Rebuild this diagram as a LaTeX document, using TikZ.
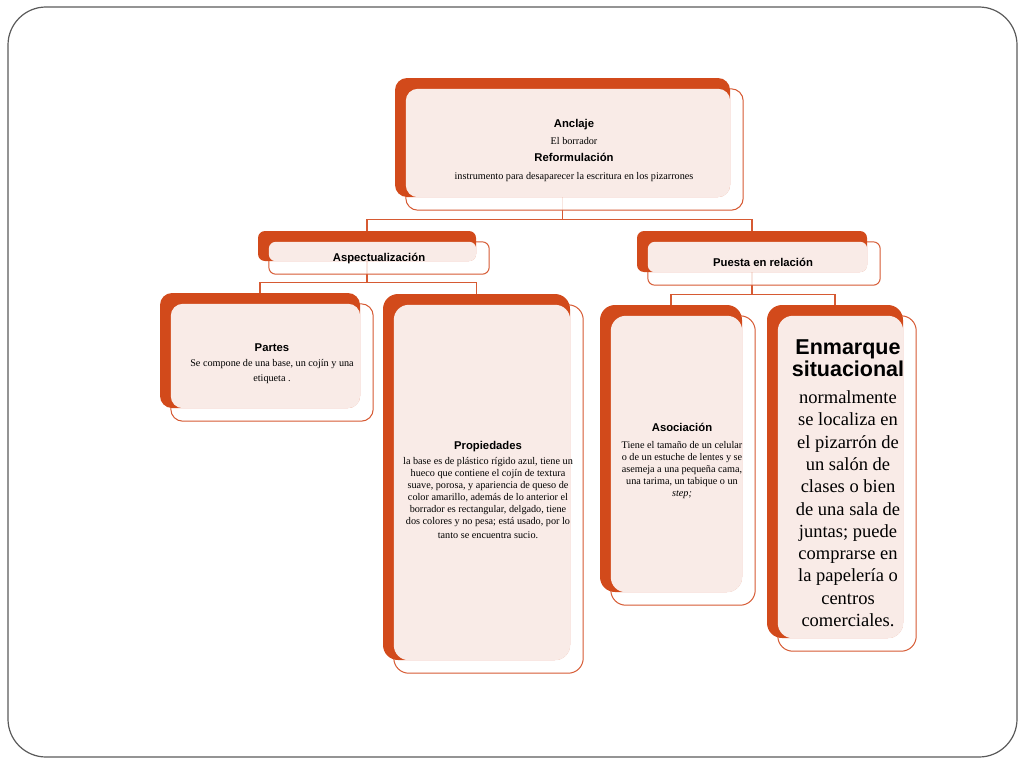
\documentclass[tikz,border=0pt]{standalone}
\usepackage{fontspec}
\setmainfont{Liberation Serif}
\newfontfamily\headfont{Liberation Sans}
\usetikzlibrary{positioning}

\definecolor{orangeD}{HTML}{D24A1B}
\definecolor{orangeL}{HTML}{D65A33}
\definecolor{pinkbg}{HTML}{F9EBE7}
\definecolor{slideGray}{HTML}{5A5A5A}

\pgfdeclarelayer{lines}
\pgfdeclarelayer{frames}
\pgfsetlayers{lines,frames,main}

\tikzset{
  backbox/.style={fill=orangeD, inner sep=0pt},
  framebox/.style={draw=orangeL, fill=white, fill opacity=0.85, line width=1pt},
  link/.style={draw=orangeL, line width=1.2pt},
  ttl/.style={font=\headfont\bfseries\fontsize{11.3}{13}\selectfont, anchor=base, inner sep=0pt, align=center},
  txt/.style={font=\fontsize{10.2}{12}\selectfont, anchor=base, inner sep=0pt, align=center},
}

% back box, pink face and offset frame
\newcommand{\mapbox}[5][12pt]{%
  \node[backbox, rounded corners=#1, minimum width=#4, minimum height=#5] (#2) at (#3) {};
  \fill[pinkbg, rounded corners=#1] ([xshift=11pt,yshift=-11pt]#2.north west) rectangle (#2.south east);
  \begin{pgfonlayer}{frames}
    \draw[framebox, rounded corners=#1] ([xshift=11pt,yshift=-11pt]#2.north west) rectangle ([xshift=13pt,yshift=-13pt]#2.south east);
  \end{pgfonlayer}}

\begin{document}
\begin{tikzpicture}[x=1pt, y=-1pt]
  \useasboundingbox (0,0) rectangle (1024,768);
  \draw[slideGray, line width=1.2pt, rounded corners=38pt] (8,7) rectangle (1017,757);

  \mapbox{anclaje}{562.5,137.5}{335pt}{119pt}
  \mapbox[7pt]{aspect}{367,246}{218pt}{30pt}
  \mapbox[7pt]{puesta}{752,251.5}{230pt}{41pt}
  \mapbox{partes}{260,350.5}{200pt}{115pt}
  \mapbox[15pt]{propiedades}{476.5,477}{187pt}{366pt}
  \mapbox[15pt]{asociacion}{671,448.5}{142pt}{287pt}
  \mapbox[15pt]{enmarque}{835,471.5}{136pt}{333pt}

  \begin{pgfonlayer}{lines}
    \draw[link] (anclaje.south) -- ++(0,22) -| (aspect.north);
    \draw[link] (anclaje.south) -- ++(0,22) -| (puesta.north);
    \draw[link] (aspect.south) -- ++(0,21) -| (partes.north);
    \draw[link] (aspect.south) -- ++(0,21) -| (propiedades.north);
    \draw[link] (puesta.south) -- ++(0,22) -| (asociacion.north);
    \draw[link] (puesta.south) -- ++(0,22) -| (enmarque.north);
  \end{pgfonlayer}

  % texts (multi-line nodes sit on their last baseline)
  \node[ttl] (anclaje-ttl) at (574,127.5) {Anclaje};
  \node[txt] (anclaje-txt) at (574,144) {El borrador};
  \node[ttl] (reform-ttl) at (574,161) {Reformulación};
  \node[txt] (reform-txt) at (574,179.5) {instrumento para desaparecer la escritura en los pizarrones};

  \node[ttl] (aspect-ttl) at (379,261) {Aspectualización};
  \node[ttl] (puesta-ttl) at (763,266.7) {Puesta en relación};

  \node[ttl] (partes-ttl) at (272,351.7) {Partes};
  \node[txt, font=\fontsize{10.2}{14.2}\selectfont] (partes-txt) at (272,381)
    {Se compone de una base, un cojín y una\\etiqueta .};

  \node[ttl] (propiedades-ttl) at (488,449.5) {Propiedades};
  \node[txt] (propiedades-txt) at (488,538)
    {la base es de plástico rígido azul, tiene un\\hueco que contiene el cojín de textura\\suave, porosa, y apariencia de queso de\\color amarillo, además de lo anterior el\\borrador es rectangular, delgado, tiene\\dos colores y no pesa; está usado, por lo\\[2pt]tanto se encuentra sucio.};

  \node[ttl] (asociacion-ttl) at (682,431.7) {Asociación};
  \node[txt, font=\fontsize{10.2}{12}\selectfont] (asociacion-txt) at (682,496.5)
    {Tiene el tamaño de un celular\\o de un estuche de lentes y se\\asemeja a una pequeña cama,\\una tarima, un tabique o un\\\textit{step;}};

  \node[ttl, font=\headfont\bfseries\fontsize{21.5}{22.5}\selectfont] (enmarque-ttl) at (848,376.5) {Enmarque\\situacional};
  \node[txt, font=\fontsize{18.5}{22.3}\selectfont] (enmarque-txt) at (848,626.5)
    {normalmente\\se localiza en\\el pizarrón de\\un salón de\\clases o bien\\de una sala de\\juntas; puede\\comprarse en\\la papelería o\\centros\\comerciales.};
\end{tikzpicture}
\end{document}
